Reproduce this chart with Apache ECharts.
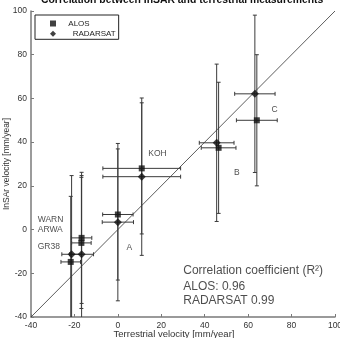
<!DOCTYPE html>
<html><head><meta charset="utf-8">
<script src="https://cdn.jsdelivr.net/npm/echarts@6/dist/echarts.min.js"></script>
<style>html,body{margin:0;padding:0;background:#fff}#c{width:340px;height:338px}</style>
</head><body><div id="c"></div>
<script>
// ---- data ----
const titleText = 'Correlation between InSAR and terrestrial measurements';
const xName = 'Terrestrial velocity [mm/year]';
const yName = 'InSAr velocity [mm/year]';
const axisMin = -40, axisMax = 100, axisStep = 20;

const alosX    = [-16.7, -16.8, -21.7, 0.0, 11.0, 46.4, 64.0];
const alosY    = [-3.8, -6.1, -14.8, 6.9, 28.0, 37.4, 50.0];
const alosXErr = [4.7, 4.5, 4.5, 7.0, 17.9, 8.0, 9.4];
const alosYErr = [30, 30, 30, 30, 30, 30, 30];

const radarX    = [-21.3, -16.7, 0.0, 11.0, 45.5, 63.1];
const radarY    = [-11.3, -11.3, 3.4, 24.2, 39.7, 62.1];
const radarXErr = [4.5, 5.5, 7.2, 17.9, 8.0, 9.3];
const radarYErr = [36, 36, 36, 36, 36, 36];

const fitLineX = [-40, 100];
const fitLineY = [-40, 100];

const siteNames = ['WARN', 'ARWA', 'GR38', 'A', 'KOH', 'B', 'C'];
const siteX     = [-36.9, -36.9, -36.9, 4.0, 14.0, 53.5, 70.7];
const siteY     = [4.6, 0.0, -7.9, -8.4, 34.8, 26.1, 55.0];

const noteLines = ['Correlation coefficient (R\u00B2)', 'ALOS: 0.96', 'RADARSAT 0.99'];
const noteX     = [30.1, 30.1, 30.1];
const noteY     = [-19.0, -26.2, -32.6];

// ---- chart ----
const FONT = '"Liberation Sans", Arial, sans-serif';
function errSeries(name, xs, ys, xe, ye) {
  return {
    name: name + ' err', type: 'custom', clip: true, z: 2, silent: true,
    data: xs.map((x, i) => [x, ys[i], xe[i], ye[i]]),
    encode: { x: 0, y: 1 },
    renderItem(params, api) {
      const x = api.value(0), y = api.value(1), dx = api.value(2), dy = api.value(3);
      const l = api.coord([x - dx, y]), r = api.coord([x + dx, y]);
      const t = api.coord([x, y + dy]), b = api.coord([x, y - dy]);
      const cap = 2;
      const st = { stroke: '#3a3a3a', lineWidth: 1, fill: null };
      const ln = (x1, y1, x2, y2) => ({ type: 'line', shape: { x1, y1, x2, y2 }, style: st });
      return { type: 'group', children: [
        ln(l[0], l[1], r[0], r[1]),
        ln(l[0], l[1] - cap, l[0], l[1] + cap),
        ln(r[0], r[1] - cap, r[0], r[1] + cap),
        ln(t[0], t[1], b[0], b[1]),
        ln(t[0] - cap, t[1], t[0] + cap, t[1]),
        ln(b[0] - cap, b[1], b[0] + cap, b[1])
      ]};
    }
  };
}
function textSeries(texts, xs, ys, size) {
  return {
    type: 'scatter', symbolSize: 0, silent: true, z: 5,
    data: texts.map((t, i) => ({ value: [xs[i], ys[i]], label: { formatter: t } })),
    label: { show: true, position: [0, 0], align: 'left', verticalAlign: 'middle',
             fontSize: size, color: '#222', fontFamily: FONT }
  };
}
const axisCommon = {
  type: 'value', min: axisMin, max: axisMax, interval: axisStep,
  splitLine: { show: false },
  axisLine: { show: true, onZero: false, lineStyle: { color: '#7a7a7a', width: 1.5 } },
  axisTick: { show: true, inside: true, length: 3, lineStyle: { color: '#7a7a7a' } },
  axisLabel: { fontSize: 8.5, color: '#333', margin: 4, fontFamily: FONT },
  nameLocation: 'middle',
  nameMoveOverlap: false,
};
const chart = echarts.init(document.getElementById('c'), null, { renderer: 'canvas' });
chart.setOption({
  animation: false,
  backgroundColor: '#fff',
  title: { text: titleText, left: 41, top: -5, padding: 0,
           textStyle: { fontSize: 10.4, fontWeight: 'bold', color: '#111', fontFamily: FONT } },
  grid: { left: 31, right: 5, top: 11, bottom: 21, containLabel: false, outerBoundsMode: 'none' },
  legend: {
    orient: 'vertical', left: 35, top: 15, padding: [3.5, 3, 0.5, 15],
    itemWidth: 20.6, itemHeight: 6, itemGap: 0.3,
    borderColor: '#222', borderWidth: 1, backgroundColor: '#fff',
    symbolKeepAspect: true,
    textStyle: { fontSize: 8, color: '#222', lineHeight: 10, fontFamily: FONT },
    data: [
      { name: 'ALOS', icon: 'path://M0,0L1,0L1,1L0,1Z' },
      { name: 'RADARSAT', icon: 'path://M0.5,0L1,0.5L0.5,1L0,0.5Z', textStyle: { padding: [0, 0, 0, 4.4] } }
    ]
  },
  xAxis: Object.assign({}, axisCommon, { name: xName, nameGap: 12,
    nameTextStyle: { fontSize: 9.5, color: '#333', fontFamily: FONT, padding: [0, 18, 0, 0] } }),
  yAxis: Object.assign({}, axisCommon, { name: yName, nameGap: 20,
    nameTextStyle: { fontSize: 8.5, color: '#333', fontFamily: FONT } }),
  series: [
    { type: 'line', data: fitLineX.map((x, i) => [x, fitLineY[i]]), symbol: 'none', silent: true,
      lineStyle: { color: '#333', width: 0.8 }, z: 1 },
    errSeries('ALOS', alosX, alosY, alosXErr, alosYErr),
    errSeries('RADARSAT', radarX, radarY, radarXErr, radarYErr),
    { name: 'ALOS', type: 'scatter', symbol: 'rect', symbolSize: 6,
      itemStyle: { color: '#111' }, z: 4,
      data: alosX.map((x, i) => [x, alosY[i]]) },
    { name: 'RADARSAT', type: 'scatter', symbol: 'diamond', symbolSize: 8,
      itemStyle: { color: '#111' }, z: 4,
      data: radarX.map((x, i) => [x, radarY[i]]) },
    textSeries(siteNames, siteX, siteY, 8.5),
    textSeries(noteLines, noteX, noteY, 12)
  ]
});
</script>
</body></html>
